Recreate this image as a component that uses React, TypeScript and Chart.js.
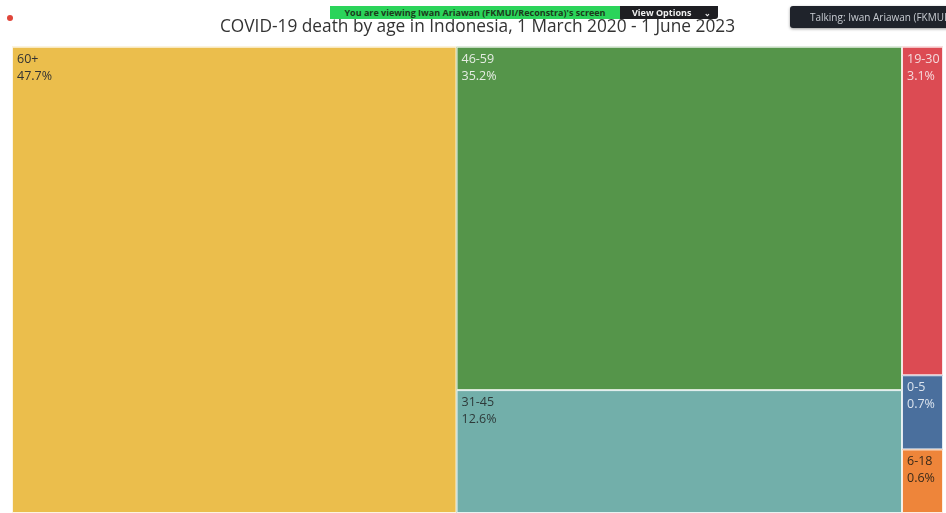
import React, { useEffect, useRef } from "react";
import { Chart, registerables } from "chart.js";

Chart.register(...registerables);

const titleText = "COVID-19 death by age in Indonesia, 1 March 2020 - 1 June 2023";
const ageGroups = ["60+", "46-59", "31-45", "19-30", "0-5", "6-18"];
const deathShares = [47.7, 35.2, 12.6, 3.1, 0.7, 0.6];
const layoutColumn = [0, 1, 1, 2, 2, 2];
const cellColors = ["#EBBE4C", "#55954A", "#72AFAA", "#DC4B53", "#4A6F9D", "#EE853A"];
const labelColors = ["#333333", "#E6EDE4", "#2E3A3A", "#F5DADC", "#DCE4EE", "#3A2A1A"];

const treemapPlugin = {
  id: "treemapCells",
  afterDatasetsDraw(chart: any) {
    const { ctx, scales } = chart;
    const xs = scales.x;
    const ys = scales.y;
    const nCols = Math.max(...layoutColumn) + 1;
    const colSums: number[] = new Array(nCols).fill(0);
    deathShares.forEach((v, i) => (colSums[layoutColumn[i]] += v));
    const total = colSums.reduce((a, b) => a + b, 0);
    let xStart = 0;
    ctx.save();
    for (let c = 0; c < nCols; c++) {
      const xEnd = xStart + colSums[c];
      let yStart = 100;
      deathShares.forEach((v, i) => {
        if (layoutColumn[i] !== c) return;
        const yEnd = yStart - (v / colSums[c]) * 100;
        const x0 = xs.getPixelForValue((xStart / total) * 100);
        const x1 = xs.getPixelForValue((xEnd / total) * 100);
        const y0 = ys.getPixelForValue(yStart);
        const y1 = ys.getPixelForValue(yEnd);
        ctx.fillStyle = cellColors[i];
        ctx.fillRect(x0, y0, x1 - x0, y1 - y0);
        ctx.strokeStyle = "rgba(255,255,255,0.85)";
        ctx.lineWidth = 1;
        ctx.strokeRect(x0 + 0.5, y0 + 0.5, x1 - x0 - 1, y1 - y0 - 1);
        ctx.fillStyle = labelColors[i];
        ctx.font = "12.5px 'Open Sans', 'Noto Sans', sans-serif";
        ctx.textBaseline = "top";
        ctx.textAlign = "left";
        ctx.fillText(ageGroups[i], x0 + 5, y0 + 6);
        ctx.fillText(v.toFixed(1) + "%", x0 + 5, y0 + 23);
        yStart = yEnd;
      });
      xStart = xEnd;
    }
    ctx.restore();
  },
};

function TreemapChart() {
  const ref = useRef<HTMLCanvasElement | null>(null);
  useEffect(() => {
    if (!ref.current) return;
    const chart = new Chart(ref.current, {
      type: "scatter",
      data: { datasets: [{ data: [], pointRadius: 0 }] },
      options: {
        animation: false,
        responsive: false,
        maintainAspectRatio: false,
        layout: { padding: { left: 12, right: 3, top: 0, bottom: -2 } },
        scales: {
          x: { type: "linear", min: 0, max: 100, display: false },
          y: { type: "linear", min: 0, max: 100, display: false },
        },
        plugins: {
          legend: { display: false },
          tooltip: { enabled: false },
          title: {
            display: true,
            text: titleText,
            color: "#333333",
            font: { family: "'Open Sans', 'Noto Sans', sans-serif", size: 17.3, weight: "normal" },
            padding: { top: 17, bottom: 9 },
          },
        },
      },
      plugins: [treemapPlugin],
    } as any);
    return () => chart.destroy();
  }, []);
  return <canvas ref={ref} width={946} height={513} style={{ display: "block" }} />;
}

export default function App() {
  return (
    <div style={{ position: "fixed", left: 0, top: 0, width: 946, height: 513, background: "#fff", overflow: "hidden" }}>
      <TreemapChart />
      <div style={{ position: "absolute", left: 7, top: 15, width: 6, height: 6, borderRadius: 3, background: "#E0453A" }} />
      <div
        style={{
          position: "absolute", left: 330, top: 6, width: 290, height: 13, background: "#2BD45A",
          color: "#1B3A1B", font: "bold 9px 'Open Sans', sans-serif", lineHeight: "13px", textAlign: "center",
        }}
      >
        You are viewing Iwan Ariawan (FKMUI/Reconstra)'s screen
      </div>
      <div
        style={{
          position: "absolute", left: 620, top: 6, width: 98, height: 13, background: "#1E1E22",
          color: "#F0F0F0", font: "bold 9px 'Open Sans', sans-serif", lineHeight: "13px",
          borderBottomRightRadius: 3,
        }}
      >
        <span style={{ position: "absolute", left: 12 }}>View Options</span>
        <span style={{ position: "absolute", left: 84, fontSize: 8 }}>⌄</span>
      </div>
      <div
        style={{
          position: "absolute", left: 790, top: 6, width: 170, height: 22, background: "#1F232B",
          borderRadius: 3, color: "#C8CCD2", font: "10px 'Open Sans', sans-serif", lineHeight: "22px",
          whiteSpace: "nowrap", paddingLeft: 20, boxSizing: "border-box", boxShadow: "0 1px 3px rgba(0,0,0,0.4)",
        }}
      >
        Talking: Iwan Ariawan (FKMUI/Reconstra)
      </div>
    </div>
  );
}
